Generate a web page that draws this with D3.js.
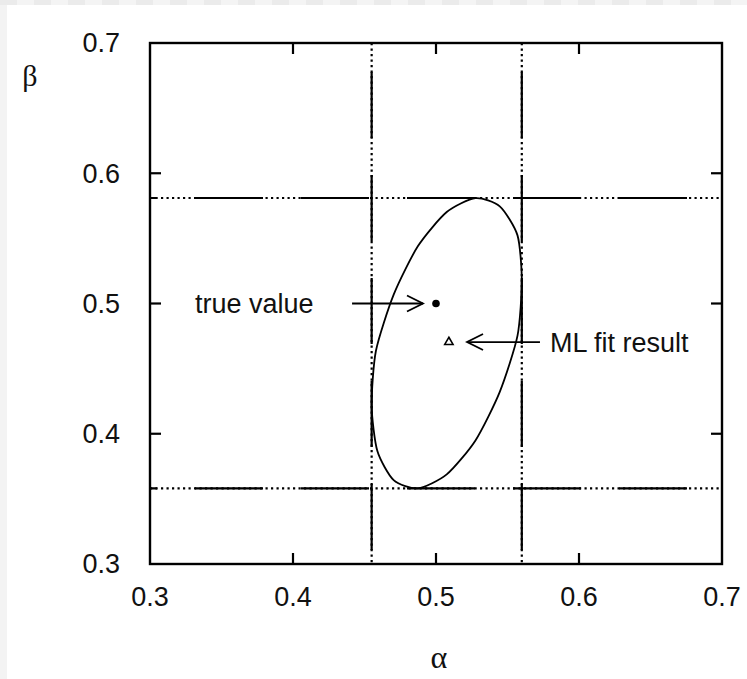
<!DOCTYPE html>
<html>
<head>
<meta charset="utf-8">
<script src="https://cdn.jsdelivr.net/npm/d3@7"></script>
<style>
  body { margin: 0; background: #fff; }
  svg { display: block; }
  text { font-family: "Liberation Sans", Arial, sans-serif; fill: #111; }
</style>
</head>
<body>
<svg></svg>
<script>
// data
const xTicks = [0.3, 0.4, 0.5, 0.6, 0.7];
const yTicks = [0.3, 0.4, 0.5, 0.6, 0.7];
const alphaLimits = [0.455, 0.560];
const betaLimits = [0.358, 0.581];
// contour points (alpha, beta), going round
const contourAlpha = [0.560, 0.557, 0.5446, 0.5276, 0.5075, 0.4874, 0.4704, 0.458,
                      0.455, 0.459, 0.4704, 0.4874, 0.5075, 0.5276, 0.5446, 0.557];
const contourBeta  = [0.5175, 0.5523, 0.5746, 0.5809, 0.5702, 0.5441, 0.5068, 0.4637,
                      0.4215, 0.3867, 0.3644, 0.3581, 0.3688, 0.3949, 0.4322, 0.4753];
const trueValue = [0.5, 0.5];
const mlFit = [0.509, 0.4704];
const labels = ["true value", "ML fit result"];

let width = 747, height = 679;
let margin = {left: 150, top: 43, right: 25, bottom: 115};

var svg = d3.select("svg").attr("width", width).attr("height", height);

// greyish border strips (transparent-looking checker at top)
svg.append("rect").attr("x", 0).attr("y", 0).attr("width", 7).attr("height", height).attr("fill", "#f3f3f3");
for (let i = 0; i * 17 < width; i++) {
  svg.append("rect").attr("x", i * 17).attr("y", 0).attr("width", 17).attr("height", 5)
    .attr("fill", i % 2 ? "#f4f4f4" : "#ebebeb");
}

var x = d3.scaleLinear().domain([0.3, 0.7]).range([margin.left, width - margin.right]);
var y = d3.scaleLinear().domain([0.3, 0.7]).range([height - margin.bottom, margin.top]);

var g = svg.append("g");

// limit lines: dotted underneath, long dashes on top
function limitLine(x1, y1, x2, y2, dash, offset) {
  g.append("line").attr("x1", x1).attr("y1", y1).attr("x2", x2).attr("y2", y2)
    .attr("stroke", "#000").attr("stroke-width", 2.2).attr("stroke-dasharray", "2.2,3.3");
  g.append("line").attr("x1", x1).attr("y1", y1).attr("x2", x2).attr("y2", y2)
    .attr("stroke", "#000").attr("stroke-width", 2.2)
    .attr("stroke-dasharray", dash).attr("stroke-dashoffset", offset);
}
betaLimits.forEach(function(b) {
  limitLine(x(0.3), y(b), x(0.7), y(b), "68,38", 61);
});
alphaLimits.forEach(function(a) {
  limitLine(x(a), y(0.7), x(a), y(0.3), "66,37", 74);
});

// contour
var pts = contourAlpha.map(function(a, i) { return [a, contourBeta[i]]; });
g.append("path")
  .datum(pts)
  .attr("fill", "none")
  .attr("stroke", "#000")
  .attr("stroke-width", 1.8)
  .attr("d", d3.line().x(d => x(d[0])).y(d => y(d[1])).curve(d3.curveCardinalClosed.tension(0.3)));

// points
g.append("circle").attr("cx", x(trueValue[0])).attr("cy", y(trueValue[1])).attr("r", 3.8).attr("fill", "#000");
g.append("path")
  .attr("transform", `translate(${x(mlFit[0])},${y(mlFit[1])})`)
  .attr("d", d3.symbol(d3.symbolTriangle, 30)())
  .attr("fill", "#fff").attr("stroke", "#000").attr("stroke-width", 1.6);

// arrows
function arrow(a1, a2, b) {
  let x1 = x(a1), x2 = x(a2), yy = y(b);
  let dir = x2 > x1 ? -1 : 1;
  g.append("line").attr("x1", x1).attr("y1", yy).attr("x2", x2).attr("y2", yy)
    .attr("stroke", "#000").attr("stroke-width", 1.8);
  g.append("path")
    .attr("d", `M${x2 + dir * 16},${yy - 8}L${x2},${yy}L${x2 + dir * 16},${yy + 8}`)
    .attr("fill", "none").attr("stroke", "#000").attr("stroke-width", 1.8);
}
arrow(0.4413, 0.4909, trueValue[1]);
arrow(0.5727, 0.5217, mlFit[1]);

svg.append("text").attr("x", x(0.3315)).attr("y", y(trueValue[1])).attr("dy", "0.35em")
  .style("font-size", "27px").text(labels[0]);
svg.append("text").attr("x", x(0.5797)).attr("y", y(mlFit[1])).attr("dy", "0.35em")
  .style("font-size", "27px").text(labels[1]);

// frame
g.append("rect")
  .attr("x", x(0.3)).attr("y", y(0.7))
  .attr("width", x(0.7) - x(0.3)).attr("height", y(0.3) - y(0.7))
  .attr("fill", "none").attr("stroke", "#000").attr("stroke-width", 2.4);

// inward ticks on all sides
xTicks.slice(1, -1).forEach(function(t) {
  g.append("line").attr("x1", x(t)).attr("x2", x(t)).attr("y1", y(0.3)).attr("y2", y(0.3) - 11)
    .attr("stroke", "#000").attr("stroke-width", 2.2);
  g.append("line").attr("x1", x(t)).attr("x2", x(t)).attr("y1", y(0.7)).attr("y2", y(0.7) + 11)
    .attr("stroke", "#000").attr("stroke-width", 2.2);
});
yTicks.slice(1, -1).forEach(function(t) {
  g.append("line").attr("y1", y(t)).attr("y2", y(t)).attr("x1", x(0.3)).attr("x2", x(0.3) + 11)
    .attr("stroke", "#000").attr("stroke-width", 2.2);
  g.append("line").attr("y1", y(t)).attr("y2", y(t)).attr("x1", x(0.7)).attr("x2", x(0.7) - 11)
    .attr("stroke", "#000").attr("stroke-width", 2.2);
});

// tick labels
svg.selectAll(".xl").data(xTicks).enter().append("text")
  .attr("x", d => x(d)).attr("y", y(0.3) + 42)
  .attr("text-anchor", "middle").style("font-size", "27px")
  .text(d => d.toFixed(1));
svg.selectAll(".yl").data(yTicks).enter().append("text")
  .attr("x", 120).attr("y", d => y(d)).attr("dy", "0.35em")
  .attr("text-anchor", "end").style("font-size", "27px")
  .text(d => d.toFixed(1));

// axis titles
svg.append("text").attr("x", 439).attr("y", 668).attr("text-anchor", "middle")
  .style("font-family", "'Liberation Serif', 'DejaVu Serif', serif").style("font-size", "32px")
  .text("α");
svg.append("text").attr("x", 30).attr("y", 86).attr("text-anchor", "middle")
  .style("font-family", "'Liberation Serif', 'DejaVu Serif', serif").style("font-size", "30px")
  .text("β");
</script>
</body>
</html>
